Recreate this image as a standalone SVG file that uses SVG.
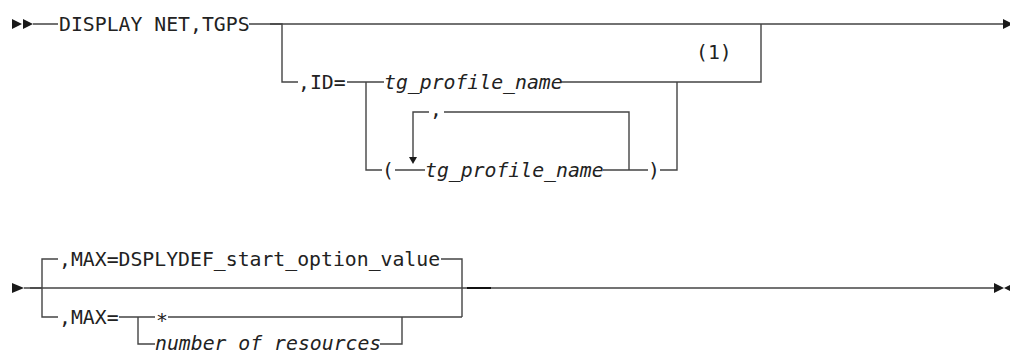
<svg xmlns="http://www.w3.org/2000/svg" width="1010" height="354" viewBox="0 0 1010 354">
<style>
.t{font-family:"DejaVu Sans Mono","Liberation Mono",monospace;font-size:19.8px;fill:#222}
.i{font-style:italic}
.c{fill:none;stroke:#444;stroke-width:1.4}
.a{fill:#1a1a1a;stroke:none}
</style>
<rect width="1010" height="354" fill="#fff"/>
<g id="connectors">
<path class="c" d="M33 24H58M249 24H1004"/>
<path class="c" d="M270 24H282V82H298M347 82H366H384M561 82H761V24"/>
<path class="c" d="M366 82V170H382M395 170H425M603 170H648M660 170H677V82"/>
<path class="c" d="M413 157V112H429M444 112H629V170"/>
<path class="c" d="M24 288H1000"/>
<path d="M467 288H491" stroke="#111" stroke-width="2"/>
<path class="c" d="M30 288H42V259H58M441 259H462V317M42 288V317H58M119 317H155M168 317H462"/>
<path class="c" d="M138 317V344H155M380 344H402V317"/>
<polygon class="a" points="12,19 22,24 12,29"/>
<polygon class="a" points="23,19 33,24 23,29"/>
<polygon class="a" points="1003,19 1013,24 1003,29"/>
<polygon class="a" points="409,157 417,157 413,164"/>
<polygon class="a" points="12,283 24,288 12,293"/>
<polygon class="a" points="994,283 1004,288 994,293"/>
<polygon class="a" points="1010,285 1004,288 1010,291"/>
</g>
<g id="cmd"><text class="t" x="59" y="31">DISPLAY NET,TGPS</text></g>
<g id="id"><text class="t" x="298" y="89">,ID=</text></g>
<g id="name1"><text class="t i" x="384" y="89">tg_profile_name</text></g>
<g id="note"><text class="t" x="696" y="59">(1)</text></g>
<g id="lparen"><text class="t" x="382" y="177">(</text></g>
<g id="sep"><text class="t" x="430" y="116">,</text></g>
<g id="name2"><text class="t i" x="425" y="177">tg_profile_name</text></g>
<g id="rparen"><text class="t" x="648" y="177">)</text></g>
<g id="maxdef"><text class="t" x="59" y="266">,MAX=DSPLYDEF_start_option_value</text></g>
<g id="max"><text class="t" x="59" y="324">,MAX=</text></g>
<g id="star"><text class="t" x="156" y="327">*</text></g>
<g id="num"><text class="t i" x="155" y="350">number of resources</text></g>
</svg>
